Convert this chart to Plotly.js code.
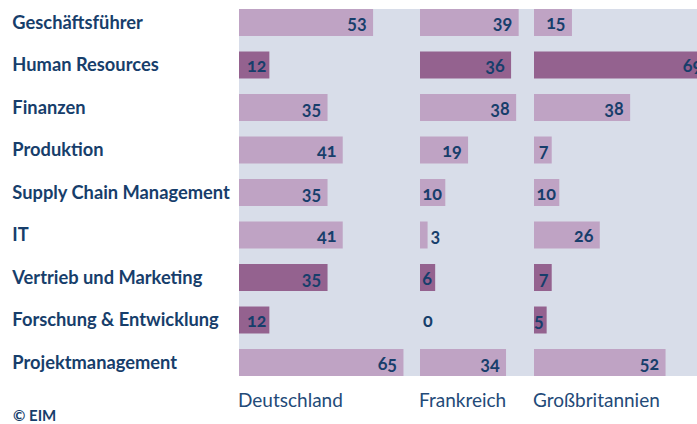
<!DOCTYPE html>
<html>
<head>
<meta charset="utf-8">
<script src="https://cdn.plot.ly/plotly-3.0.1.min.js"></script>
<style>
html, body { margin: 0; padding: 0; background: #ffffff; }
#chart { width: 697px; height: 424px; }
.bartext { font-feature-settings: "onum" 1; }
</style>
</head>
<body>
<div id="chart"></div>
<script>
// ---- data ----
const categories = [
  "Geschäftsführer",
  "Human Resources",
  "Finanzen",
  "Produktion",
  "Supply Chain Management",
  "IT",
  "Vertrieb und Marketing",
  "Forschung & Entwicklung",
  "Projektmanagement"
];
const countries = ["Deutschland", "Frankreich", "Großbritannien"];
const valuesDeutschland = [53, 12, 35, 41, 35, 41, 35, 12, 65];
const valuesFrankreich  = [39, 36, 38, 19, 10, 3, 6, 0, 34];
const valuesGrossbritannien = [15, 69, 38, 7, 10, 26, 7, 5, 52];
const highlighted = ["Human Resources", "Vertrieb und Marketing", "Forschung & Entwicklung"];
const sourceLabel = "© EIM";

// ---- style ----
const W = 697, H = 424;
const NAVY = "#173e6b";
const LIGHT = "#bfa3c4";
const DARK = "#94628f";
const BG = "#d8dde9";
const PX_PER_UNIT = 2.53;
const panelEdges = [239, 420, 534, 697];
const FONT = "Lato, 'DejaVu Sans', sans-serif";

const seriesList = [valuesDeutschland, valuesFrankreich, valuesGrossbritannien];
const axisIds = ["x", "x2", "x3"];

const traces = seriesList.map((vals, i) => ({
  type: "bar",
  orientation: "h",
  x: vals,
  y: categories,
  xaxis: axisIds[i],
  yaxis: "y",
  marker: { color: categories.map(c => highlighted.includes(c) ? DARK : LIGHT), line: { width: 0 } },
  text: vals.map(v => String(v)),
  texttemplate: vals.map(v => v > 12 ? "%{text}\u2009\u200A" : "%{text}"),
  textposition: vals.map(v => v >= 4 ? "inside" : "outside"),
  insidetextanchor: "end",
  textangle: 0,
  constraintext: "none",
  cliponaxis: true,
  insidetextfont: { family: FONT, size: 18, color: NAVY, weight: "bold" },
  outsidetextfont: { family: FONT, size: 18, color: NAVY, weight: "bold" },
  hoverinfo: "skip",
  showlegend: false
}));

const layout = {
  width: W, height: H,
  margin: { l: 0, r: 0, t: 9, b: 48, pad: 0 },
  paper_bgcolor: "#ffffff",
  plot_bgcolor: BG,
  bargap: 0.365,
  showlegend: false,
  yaxis: {
    type: "category",
    range: [8.3176, -0.3176],
    anchor: "free",
    position: 0.0163,
    side: "right",
    showgrid: false, zeroline: false, showline: false, ticks: "",
    automargin: false,
    tickfont: { family: FONT, size: 18.3, color: NAVY, weight: "bold" }
  },
  annotations: [],
  font: { family: FONT, color: NAVY }
};

axisIds.forEach((id, i) => {
  const key = id === "x" ? "xaxis" : "xaxis" + id.slice(1);
  const px0 = panelEdges[i], px1 = panelEdges[i + 1];
  layout[key] = {
    domain: [px0 / W, px1 / W],
    range: [0, (px1 - px0) / PX_PER_UNIT],
    anchor: "y",
    showgrid: false, zeroline: false, showline: false,
    showticklabels: false, ticks: "",
    automargin: false,
    fixedrange: true
  };
  layout.annotations.push({
    xref: id + " domain", yref: "paper",
    x: 0, y: -0.065, xshift: -3,
    xanchor: "left", yanchor: "middle",
    text: countries[i],
    showarrow: false,
    font: { family: FONT, size: 19, color: "#234a78" }
  });
});

layout.annotations.push({
  xref: "paper", yref: "paper",
  x: 13 / W, y: -0.105, xshift: -2,
  xanchor: "left", yanchor: "middle",
  text: "<b>" + sourceLabel + "</b>",
  showarrow: false,
  font: { family: FONT, size: 15, color: NAVY }
});

Plotly.newPlot("chart", traces, layout, { displayModeBar: false, staticPlot: true });
</script>
</body>
</html>
